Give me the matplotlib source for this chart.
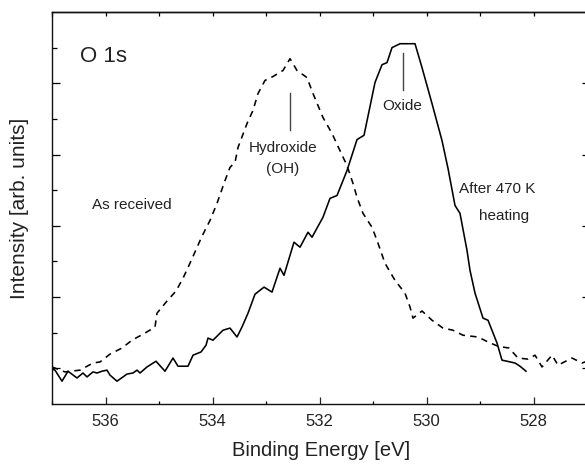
import matplotlib
matplotlib.use("Agg")
import matplotlib.pyplot as plt
from matplotlib.ticker import FixedLocator, MultipleLocator, NullFormatter

plt.rcParams['font.family'] = ['Liberation Sans', 'DejaVu Sans']

# After 470 K heating (solid)
heated_energy = [537.000, 536.944, 536.813, 536.701, 536.533, 536.421, 536.346, 536.234,
                 536.159, 536.065, 535.972, 535.916, 535.785, 535.598, 535.486, 535.411,
                 535.355, 535.224, 535.056, 534.888, 534.738, 534.645, 534.458, 534.364,
                 534.215, 534.121, 534.084, 533.991, 533.804, 533.673, 533.542, 533.449,
                 533.336, 533.206, 533.037, 532.888, 532.738, 532.664, 532.477, 532.364,
                 532.215, 532.140, 531.935, 531.804, 531.673, 531.486, 531.299, 531.168,
                 530.963, 530.832, 530.738, 530.645, 530.495, 530.215, 530.084, 529.897,
                 529.710, 529.598, 529.467, 529.374, 529.243, 529.187, 529.093, 528.944,
                 528.850, 528.682, 528.589, 528.495, 528.346, 528.252, 528.140]
heated_intensity = [0.98, 0.95, 0.64, 0.92, 0.73, 0.87, 0.76, 0.90,
                    0.87, 0.92, 0.95, 0.81, 0.64, 0.84, 0.87, 0.95,
                    0.87, 1.04, 1.20, 0.92, 1.29, 1.06, 1.06, 1.37,
                    1.46, 1.65, 1.85, 1.79, 2.07, 2.13, 1.88, 2.16,
                    2.55, 3.08, 3.28, 3.14, 3.81, 3.61, 4.54, 4.40,
                    4.82, 4.68, 5.24, 5.77, 5.85, 6.55, 7.42, 7.54,
                    9.02, 9.52, 9.58, 10.00, 10.11, 10.11, 9.44, 8.43,
                    7.39, 6.61, 5.57, 5.35, 4.31, 3.75, 3.11, 2.41,
                    2.35, 1.71, 1.23, 1.20, 1.15, 1.06, 0.92]

# As received (dashed)
received_energy = [537.000, 536.757, 536.477, 536.234, 536.103, 535.916, 535.692, 535.505,
                   535.262, 535.075, 535.037, 534.850, 534.682, 534.551, 534.421, 534.196,
                   534.047, 533.916, 533.766, 533.673, 533.579, 533.523, 533.355, 533.243,
                   533.150, 533.019, 532.869, 532.682, 532.551, 532.421, 532.234, 532.121,
                   531.935, 531.766, 531.617, 531.486, 531.374, 531.299, 531.187, 531.019,
                   530.925, 530.776, 530.589, 530.402, 530.308, 530.252, 530.084, 529.897,
                   529.692, 529.505, 529.318, 529.037, 528.850, 528.664, 528.458, 528.290,
                   528.103, 527.972, 527.841, 527.654, 527.542, 527.280, 527.093, 526.944]
received_intensity = [1.04, 0.90, 0.95, 1.15, 1.18, 1.40, 1.57, 1.79,
                      1.99, 2.16, 2.55, 2.89, 3.17, 3.53, 3.95, 4.71,
                      5.15, 5.63, 6.27, 6.64, 6.78, 7.20, 7.87, 8.24,
                      8.71, 9.08, 9.19, 9.36, 9.69, 9.36, 9.16, 8.71,
                      8.04, 7.59, 7.11, 6.69, 6.19, 5.80, 5.35, 4.96,
                      4.59, 3.95, 3.47, 3.11, 2.72, 2.41, 2.61, 2.35,
                      2.13, 2.07, 1.93, 1.88, 1.74, 1.62, 1.57, 1.29,
                      1.26, 1.37, 1.04, 1.37, 1.09, 1.29, 1.15, 1.23]

x_major_ticks = [536, 534, 532, 530, 528]
x_tick_labels = ['536', '534', '532', '530', '528']

txt_color = '#222222'

fig = plt.figure(figsize=(5.85, 4.65), dpi=100)
ax = fig.add_axes([52 / 585, 61 / 465, 538 / 585, 392 / 465])

ax.plot(heated_energy, heated_intensity, color='black', lw=1.15, solid_joinstyle='round')
ax.plot(received_energy, received_intensity, color='black', lw=1.15, dashes=(4, 3.3))

ax.set_xlim(537, 526.944)
ax.set_ylim(0, 11)

ax.xaxis.set_major_locator(FixedLocator(x_major_ticks))
ax.set_xticklabels(x_tick_labels)
ax.xaxis.set_minor_locator(MultipleLocator(1))
ax.yaxis.set_major_locator(FixedLocator([1, 3, 5, 7, 9]))
ax.yaxis.set_minor_locator(FixedLocator([2, 4, 6, 8, 10]))
ax.yaxis.set_major_formatter(NullFormatter())

ax.tick_params(axis='x', which='major', direction='in', length=5, width=0.9,
               labelsize=12, pad=7, top=False, colors=txt_color)
ax.tick_params(axis='x', which='minor', direction='in', length=2.5, width=0.9, top=False)
ax.tick_params(axis='y', which='major', direction='in', length=5.8, width=0.9,
               left=True, right=True, labelleft=False)
ax.tick_params(axis='y', which='minor', direction='in', length=3.4, width=0.9,
               left=True, right=True)

top = ax.secondary_xaxis('top')
top.xaxis.set_major_locator(MultipleLocator(1))
top.xaxis.set_major_formatter(NullFormatter())
top.tick_params(direction='in', length=2.9, width=0.9)
top.spines['top'].set_linewidth(1.0)

for s in ax.spines.values():
    s.set_linewidth(1.0)
    s.set_color('#111111')

ax.set_xlabel('Binding Energy [eV]', fontsize=14.5, color=txt_color, labelpad=9)
ax.set_ylabel('Intensity [arb. units]', fontsize=15, color=txt_color, labelpad=13)

ax.text(536.48, 9.61, 'O 1s', fontsize=16, ha='left', va='baseline', color=txt_color)
ax.text(536.25, 5.46, 'As received', fontsize=11, ha='left', va='baseline', color=txt_color)
ax.text(532.68, 7.06, 'Hydroxide', fontsize=11, ha='center', va='baseline', color=txt_color)
ax.text(532.68, 6.47, '(OH)', fontsize=11, ha='center', va='baseline', color=txt_color)
ax.text(530.46, 8.24, 'Oxide', fontsize=11, ha='center', va='baseline', color=txt_color)
ax.text(528.68, 5.91, 'After 470 K', fontsize=11, ha='center', va='baseline', color=txt_color)
ax.text(528.55, 5.15, 'heating', fontsize=11, ha='center', va='baseline', color=txt_color)

ax.plot([532.55, 532.55], [7.70, 8.74], color='#444444', lw=1.0)
ax.plot([530.44, 530.44], [8.80, 9.86], color='#444444', lw=1.0)

fig.savefig('out.png', dpi=100)
